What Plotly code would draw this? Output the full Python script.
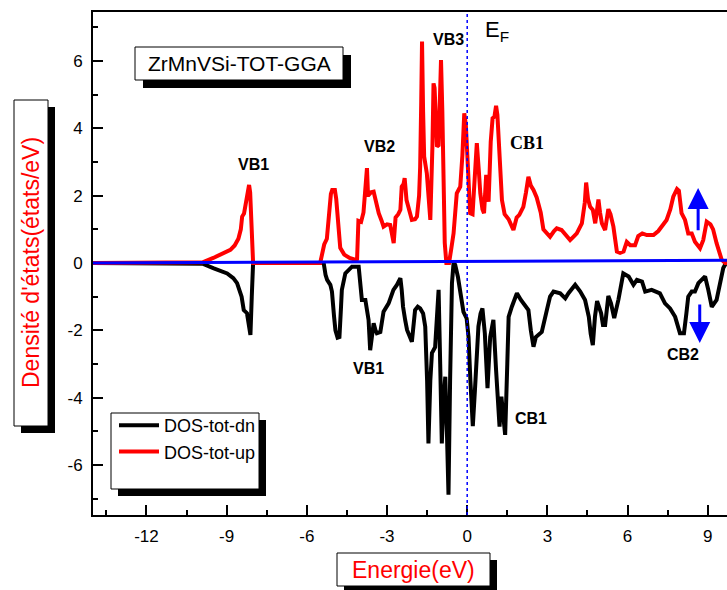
import plotly.graph_objects as go

# Spin-up total DOS (states/eV) versus energy (eV)
energy_up = [-14, -10.0, -9.9, -9.5, -9.2, -8.86, -8.7, -8.56, -8.47, -8.42, -8.35, -8.27, -8.2, -8.16,
             -8.12, -8.06, -8.01,
             -5.5, -5.42, -5.35, -5.25, -5.18, -5.1, -5.05, -4.95, -4.9, -4.82, -4.75, -4.6, -4.4, -4.2,
             -4.12, -4.07, -3.97, -3.88, -3.79, -3.75, -3.71, -3.6, -3.5, -3.41, -3.31, -3.2, -3.13, -3.0,
             -2.88, -2.8, -2.75, -2.68, -2.58, -2.5, -2.45, -2.38, -2.34, -2.27, -2.15, -2.07, -1.95, -1.88,
             -1.8, -1.76, -1.72, -1.69, -1.65, -1.61, -1.51, -1.42, -1.38, -1.3, -1.26, -1.22, -1.17, -1.13,
             -1.07, -1.02, -0.98, -0.93, -0.89, -0.84, -0.78, -0.68, -0.6, -0.51, -0.39, -0.26, -0.18, -0.11,
             -0.05, 0.03, 0.11, 0.2, 0.27, 0.36, 0.43, 0.49, 0.57, 0.63, 0.71, 0.76, 0.8, 0.88, 0.95, 1.02,
             1.08, 1.13, 1.2, 1.3, 1.4, 1.55, 1.73, 1.85, 1.95, 2.1, 2.2, 2.29, 2.38, 2.48, 2.6, 2.75, 2.85,
             3.0, 3.1, 3.25, 3.35, 3.53, 3.7, 3.85, 4.0, 4.1, 4.29, 4.4, 4.45, 4.52, 4.6, 4.7, 4.79, 4.86,
             4.91, 4.97, 5.04, 5.16, 5.28, 5.36, 5.47, 5.6, 5.72, 5.85, 5.97, 6.1, 6.28, 6.4, 6.55, 6.72,
             6.97, 7.15, 7.28, 7.46, 7.6, 7.71, 7.85, 7.92, 8.02, 8.15, 8.27, 8.4, 8.52, 8.71, 8.83, 8.96,
             9.1, 9.2, 9.33, 9.52, 9.65, 9.75]
dos_up = [0, 0, 0.02, 0.15, 0.25, 0.39, 0.52, 0.72, 1.0, 1.38, 1.47, 1.85, 2.3, 2.32,
          2.1, 0.8, 0.0,
          0.0, 0.3, 0.55, 0.72, 1.4, 2.05, 2.17, 2.17, 1.9, 1.0, 0.45, 0.25, 0.15, 0.1,
          0.12, 1.25, 1.22, 1.5, 2.4, 2.82, 2.0, 2.1, 2.12, 1.8, 1.48, 1.25, 1.08, 1.15,
          1.13, 0.8, 0.59, 1.35, 1.45, 1.58, 2.27, 2.35, 2.52, 1.87, 1.45, 1.28, 1.3, 1.38,
          2.0, 2.86, 4.8, 6.58, 4.5, 3.16, 2.66, 1.5, 1.28, 3.5, 5.34, 5.2, 4.0, 3.46,
          3.5, 5.5, 6.03, 4.5, 2.27, 0.6, 0.0, 0.0, 0.4, 0.88, 2.07, 2.27, 3.2, 4.45,
          4.1, 3.0, 1.48, 1.45, 2.5, 3.56, 2.8, 2.07, 1.6, 1.48, 2.62, 2.2, 1.82, 3.6, 4.3, 4.35,
          4.67, 4.4, 3.2, 1.87, 1.45, 1.3, 0.98, 1.35, 1.43, 1.67, 2.1, 2.56, 2.3, 2.17, 1.95, 1.5, 1.0,
          0.85, 0.78, 0.95, 1.03, 0.98, 0.8, 0.68, 0.8, 0.88, 1.18, 1.8, 2.39, 1.9, 1.67, 1.58, 1.18, 1.5,
          1.89, 1.5, 1.18, 0.98, 1.6, 1.45, 1.08, 0.34, 0.3, 0.34, 0.63, 0.53, 0.53, 0.8, 0.88, 0.83,
          0.83, 0.95, 1.08, 1.28, 1.6, 1.97, 2.2, 2.15, 1.48, 1.28, 0.88, 0.88, 0.63, 0.44, 0.68, 1.23,
          1.15, 1.0, 0.59, 0.1, 0.0, 0.0]

# Spin-down total DOS (plotted as negative values)
energy_dn = [-14, -10.0, -9.9, -9.48, -8.98, -8.75, -8.61, -8.44, -8.36, -8.24, -8.16, -8.11, -8.06, -8.01,
             -5.5, -5.37, -5.3, -5.24, -5.12, -5.06, -4.98, -4.93, -4.85, -4.78, -4.72, -4.69, -4.56, -4.31,
             -4.06, -4.0, -3.94, -3.81, -3.72, -3.69, -3.63, -3.56, -3.5, -3.43, -3.38, -3.25, -3.13, -2.94,
             -2.76, -2.63, -2.5, -2.45, -2.4, -2.32, -2.25, -2.07, -2.0, -1.95, -1.85, -1.76, -1.65, -1.57,
             -1.5, -1.45, -1.38, -1.32, -1.2, -1.13, -1.07, -1.01, -0.95, -0.88, -0.82, -0.76, -0.7, -0.64,
             -0.57, -0.51, -0.45, -0.35, -0.26, -0.14, -0.02, 0.05, 0.12, 0.21, 0.29, 0.36, 0.42, 0.5, 0.57,
             0.66, 0.76, 0.86, 0.98, 1.08, 1.21, 1.28, 1.35, 1.42, 1.5, 1.55, 1.67, 1.86, 2.01, 2.17, 2.29,
             2.38, 2.48, 2.57, 2.67, 2.79, 2.98, 3.1, 3.23, 3.48, 3.67, 3.79, 4.04, 4.23, 4.41, 4.55, 4.62,
             4.7, 4.78, 4.86, 5.01, 5.08, 5.16, 5.28, 5.38, 5.5, 5.66, 5.84, 6.04, 6.15, 6.22, 6.35, 6.54,
             6.66, 6.9, 7.21, 7.4, 7.59, 7.78, 7.96, 8.11, 8.2, 8.27, 8.4, 8.52, 8.65, 8.9, 9.02, 9.15,
             9.33, 9.46, 9.58, 9.72]
dos_dn = [0, 0, -0.02, -0.16, -0.31, -0.45, -0.6, -1.0, -1.4, -1.49, -1.9, -2.14, -1.0, 0.0,
          0.0, 0.0, -0.35, -0.5, -0.65, -0.85, -1.6, -2.0, -2.22, -2.2, -1.3, -0.8, -0.31, -0.11,
          -0.11, -0.6, -1.1, -1.1, -1.5, -1.69, -2.59, -2.1, -1.79, -2.0, -2.09, -2.05, -1.45, -1.2,
          -0.8, -0.65, -0.45, -0.8, -1.3, -1.7, -1.99, -2.34, -1.8, -1.4, -1.3, -1.35, -1.5, -1.89,
          -3.5, -5.36, -3.5, -2.68, -2.5, -1.5, -0.8, -3.0, -5.36, -4.0, -3.38, -5.0, -6.89, -3.5,
          -0.6, 0.0, -0.05, -0.4, -0.8, -1.45, -1.65, -2.2, -3.5, -4.85, -3.77, -2.6, -1.89, -1.5, -1.35,
          -2.09, -3.72, -2.2, -1.69, -3.18, -4.86, -3.97, -4.5, -5.11, -3.0, -1.6, -1.3, -0.9, -1.1, -1.3, -1.4,
          -2.0, -2.49, -2.2, -2.14, -2.05, -1.4, -1.0, -0.85, -0.9, -1.05, -0.9, -0.65, -0.85, -1.1, -1.6, -2.1,
          -2.44, -1.6, -1.13, -1.49, -1.84, -1.84, -0.98, -1.2, -1.64, -1.08, -0.31, -0.4, -0.55, -0.65, -0.5, -0.55,
          -0.85, -0.8, -0.9, -1.2, -1.35, -1.6, -2.09, -2.09, -1.5, -1.0, -0.85, -0.85, -0.6, -0.4, -0.8, -1.3,
          -1.1, -0.6, -0.15, 0.05]

x_tick_vals = [-12, -9, -6, -3, 0, 3, 6, 9]
x_tick_text = ["-12", "-9", "-6", "-3", "0", "3", "6", "9"]
y_tick_vals = [-6, -4, -2, 0, 2, 4, 6]
y_tick_text = ["-6", "-4", "-2", "0", "2", "4", "6"]

# Peak labels: (text, energy, dos, bold-font family)
peak_labels = [
    ("VB1", -8.0, 2.94, "Liberation Sans"),
    ("VB2", -3.29, 3.45, "Liberation Sans"),
    ("VB3", -0.71, 6.63, "Liberation Sans"),
    ("CB1", 2.24, 3.57, "Liberation Serif"),
    ("VB1", -3.70, -3.15, "Liberation Sans"),
    ("CB1", 2.39, -4.61, "Liberation Sans"),
    ("CB2", 8.09, -2.73, "Liberation Sans"),
]

# Spin arrows: (energy, tail dos, head dos)
spin_arrows = [(8.64, 0.93, 2.23), (8.70, -1.19, -2.38)]

# Plot-area geometry in pixels
W, H = 727, 590
L, R, T, B = 93, 727, 12, 515


def fx(px):
    return (px - L) / (R - L)


def fy(py):
    return (B - py) / (B - T)


SANS = "Liberation Sans, Arial, sans-serif"

fig = go.Figure()
fig.add_trace(go.Scatter(x=energy_dn, y=dos_dn, mode="lines", name="DOS-tot-dn",
                         line=dict(color="black", width=4)))
fig.add_trace(go.Scatter(x=energy_up, y=dos_up, mode="lines", name="DOS-tot-up",
                         line=dict(color="red", width=4)))

shapes = []


def boxed(x0, y0, x1, y1, off=7):
    shapes.append(dict(type="rect", xref="paper", yref="paper", layer="above",
                       x0=fx(x0 + off), x1=fx(x1 + off), y0=fy(y0 + off), y1=fy(y1 + off),
                       fillcolor="black", line=dict(width=0)))
    shapes.append(dict(type="rect", xref="paper", yref="paper", layer="above",
                       x0=fx(x0), x1=fx(x1), y0=fy(y0), y1=fy(y1),
                       fillcolor="white", line=dict(color="black", width=1)))


boxed(135, 47, 343, 80, off=8)    # title box
boxed(14, 100, 48, 426)           # y-axis title box
boxed(337, 553, 490, 586)         # x-axis title box
boxed(111, 413, 259, 489)         # legend box

# Zero line and Fermi level
shapes.append(dict(type="line", xref="x", yref="y", layer="above",
                   x0=-14, x1=9.75, y0=0, y1=0.08, line=dict(color="blue", width=3)))
shapes.append(dict(type="line", xref="x", yref="paper", layer="above",
                   x0=0, x1=0, y0=0, y1=1, line=dict(color="blue", width=1.5, dash="dot")))


def label(text, x, y, size, color="black", family=SANS, ref="paper", angle=0, xanchor="center"):
    return dict(text=text, xref=ref, yref=ref, x=x, y=y, xanchor=xanchor, yanchor="middle",
                textangle=angle, showarrow=False,
                font=dict(family=family, size=size, color=color))


annotations = [
    label("ZrMnVSi-TOT-GGA", fx(239), fy(63.5), 21),
    label("Densité d'états(états/eV)", fx(31), fy(263), 23, color="red", angle=-90),
    label("Energie(eV)", fx(413), fy(569.5), 23, color="red"),
]
ef = label("E<sub>F</sub>", 0.58, 6.9, 22, ref="x", xanchor="left")
ef["yref"] = "y"
annotations.append(ef)

for ex, tail, head in spin_arrows:
    annotations.append(dict(text="", xref="x", yref="y", axref="x", ayref="y",
                            x=ex, y=head, ax=ex, ay=tail, showarrow=True,
                            arrowhead=2, arrowsize=1.4, arrowwidth=3, arrowcolor="blue"))

for txt, ex, ey, fam in peak_labels:
    a = label("<b>%s</b>" % txt, ex, ey, 18 if fam == "Liberation Serif" else 16,
              family=fam + ", sans-serif", ref="x")
    a["yref"] = "y"
    annotations.append(a)

fig.update_layout(
    width=W, height=H,
    margin=dict(l=L, r=W - R, t=T, b=H - B),
    paper_bgcolor="white", plot_bgcolor="white",
    showlegend=True,
    legend=dict(x=fx(114), y=fy(407), xanchor="left", yanchor="top",
                bgcolor="rgba(0,0,0,0)", borderwidth=0, itemwidth=40,
                font=dict(family=SANS, size=18, color="black"), tracegroupgap=0),
    shapes=shapes,
    annotations=annotations,
    font=dict(family=SANS, color="black"),
)
fig.update_xaxes(range=[-14, 9.72], showgrid=False, zeroline=False,
                 showline=True, linecolor="black", linewidth=2, mirror=True,
                 tickmode="array", tickvals=x_tick_vals, ticktext=x_tick_text,
                 ticks="inside", ticklen=10, tickwidth=1.5, tickcolor="black",
                 ticklabelstandoff=5,
                 tickfont=dict(family=SANS, size=17, color="black"),
                 minor=dict(ticks="inside", ticklen=5, tickwidth=1.5, tickcolor="black",
                            tickmode="linear", tick0=0, dtick=1.5, showgrid=False))
fig.update_yaxes(range=[-7.49, 7.46], showgrid=False, zeroline=False,
                 showline=True, linecolor="black", linewidth=2, mirror=False,
                 tickmode="array", tickvals=y_tick_vals, ticktext=y_tick_text,
                 ticks="inside", ticklen=10, tickwidth=1.5, tickcolor="black",
                 ticklabelstandoff=5,
                 tickfont=dict(family=SANS, size=17, color="black"),
                 minor=dict(ticks="inside", ticklen=5, tickwidth=1.5, tickcolor="black",
                            tickmode="linear", tick0=0, dtick=1, showgrid=False))

fig.write_html("out.html")
